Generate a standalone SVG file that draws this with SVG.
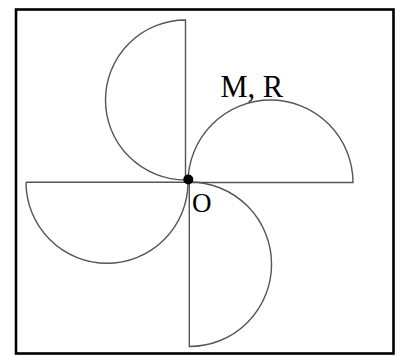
<svg xmlns="http://www.w3.org/2000/svg" width="396" height="356" viewBox="0 0 396 356">
<style>
.blade{fill:none;stroke:#555;stroke-width:1.4}
.lbl{font-family:"Liberation Serif","Times New Roman",serif;fill:#000}
</style>
<rect x="0" y="0" width="396" height="356" fill="#fff"/>
<rect id="frame" x="16" y="9.5" width="377.5" height="344" fill="none" stroke="#000" stroke-width="2.6"/>
<g id="connectors">
<path id="blade-top" class="blade" d="M185.5,180 L185.5,20 A80,80 0 0 0 185.5,180"/>
<path id="blade-right" class="blade" d="M188,182.5 L353,182.5 A82.5,82.5 0 0 0 188,182.5"/>
<path id="blade-bottom" class="blade" d="M189.3,182 L189.3,346.5 A82.25,82.25 0 0 0 189.3,182"/>
<path id="blade-left" class="blade" d="M26,182.3 L188,182.3 A81,81 0 0 1 26,182.3"/>
</g>
<g id="node-O">
<circle cx="188.3" cy="179.5" r="5" fill="#000"/>
<text class="lbl" x="192" y="212" font-size="27">O</text>
</g>
<g id="label-MR">
<text class="lbl" x="220.5" y="97" font-size="30.5">M, R</text>
</g>
</svg>
